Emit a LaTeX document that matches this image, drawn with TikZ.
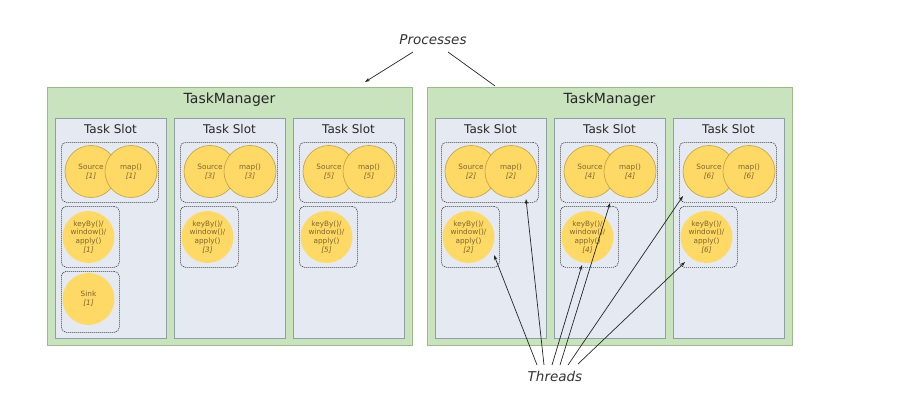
\documentclass[tikz,border=0pt]{standalone}
\usepackage{fontspec}
\setmainfont{DejaVu Sans}
\usetikzlibrary{arrows.meta}
\definecolor{tmfill}{HTML}{C9E3BF}
\definecolor{tmdraw}{HTML}{9DB98C}
\definecolor{slotfill}{HTML}{E4E9F2}
\definecolor{slotdraw}{HTML}{8E9FA6}
\definecolor{opfill}{HTML}{FFD966}
\definecolor{opdraw}{HTML}{C7A64C}
\definecolor{optext}{HTML}{80642A}
\tikzset{
  tmbox/.style={draw=tmdraw, fill=tmfill, line width=0.8pt},
  slotbox/.style={draw=slotdraw, fill=slotfill, line width=0.8pt},
  grpbox/.style={draw=black!75, dash pattern=on 1.2pt off 0.8pt, line width=0.6pt, rounded corners=5pt},
  opcirc/.style={circle, fill=opfill, minimum size=52pt, inner sep=0pt, align=center, font=\fontsize{7.3}{8.6}\selectfont, text=optext},
  opline/.style={draw=opdraw, line width=0.7pt},
  lbl/.style={font=\fontsize{13.5}{15}\selectfont\itshape, text=black!80},
  arr/.style={-{Stealth[length=5pt,width=3.5pt]}, line width=0.7pt, black!85},
  ln/.style={line width=0.7pt, black!85},
}
\begin{document}
\begin{tikzpicture}[x=1pt,y=-1pt]
\useasboundingbox (0,0) rectangle (904,401);
% Task managers
\foreach \k/\a/\b/\c in {0/1/3/5, 1/2/4/6} {
  \pgfmathsetmacro{\dx}{380*\k}
  \begin{scope}[xshift=\dx]
    \node[tmbox, minimum width=365pt, minimum height=258pt, anchor=north west, inner sep=0pt] (tm\k) at (47,87) {};
    \node[font=\fontsize{14}{16}\selectfont, text=black!85] (tmt\k) at (229.5,100) {TaskManager};
    \foreach \j/\n in {0/\a, 1/\b, 2/\c} {
      \pgfmathsetmacro{\xl}{55+119*\j}
      \begin{scope}[xshift=\xl]
        \node[slotbox, minimum width=111pt, minimum height=220pt, anchor=north west, inner sep=0pt] (slot\n) at (0,118) {};
        \node[font=\fontsize{12}{14}\selectfont, text=black!85] (slott\n) at (55.5,129) {Task Slot};
        \node[grpbox, minimum width=97pt, minimum height=60pt, anchor=north west, inner sep=0pt] (g\n) at (6,142) {};
        \node[opcirc, opline] (src\n) at (36,171.5) {Source\\\textit{[\n]}};
        \node[opcirc, opline] (map\n) at (76,171.5) {map()\\\textit{[\n]}};
        \node[grpbox, minimum width=58pt, minimum height=61pt, anchor=north west, inner sep=0pt] (kg\n) at (6,206) {};
        \node[opcirc] (kb\n) at (33.5,237) {keyBy()/\\window()/\\apply()\\\textit{[\n]}};
      \end{scope}
    }
  \end{scope}
}
% Sink
\node[grpbox, minimum width=58pt, minimum height=61pt, anchor=north west, inner sep=0pt] (sg1) at (61,271) {};
\node[opcirc] (sink1) at (88.5,299) {Sink\\\textit{[1]}};
% Processes
\node[lbl] (proc) at (433,40) {Processes};
\coordinate (p1) at (365,82);
\coordinate (p2) at (495,86);
\draw[arr] (413,52) -- (p1);
\draw[ln] (448,52) -- (p2);
% Threads
\node[lbl] (thr) at (555,376) {Threads};
\coordinate (s1) at (537,365);
\coordinate (s2) at (544,365);
\coordinate (s3) at (552,365);
\coordinate (s4) at (560,365);
\coordinate (s5) at (568,365);
\coordinate (s6) at (578,364);
\coordinate (t1) at (494,255);
\coordinate (t2) at (526,199);
\coordinate (t3) at (582,265);
\coordinate (t4) at (610,203);
\coordinate (t5) at (683,196);
\coordinate (t6) at (685,262);
\foreach \i in {1,...,6} { \draw[arr] (s\i) -- (t\i); }
\end{tikzpicture}
\end{document}
